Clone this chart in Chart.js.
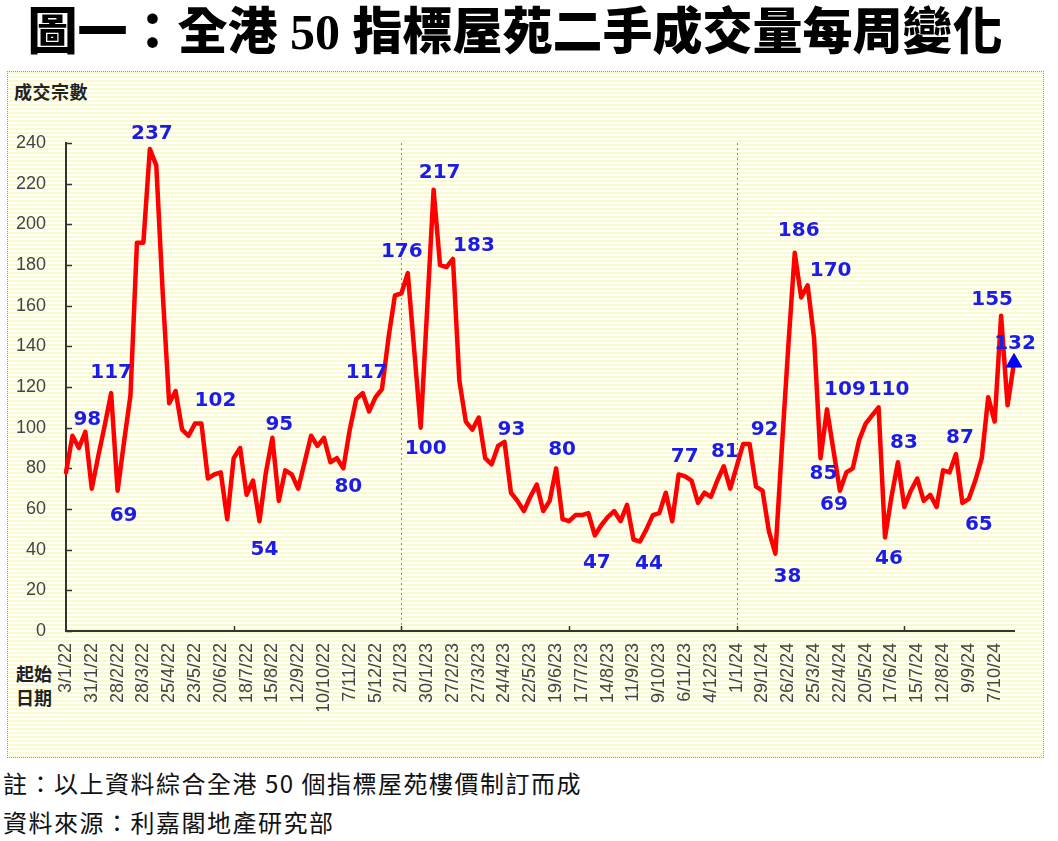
<!DOCTYPE html>
<html>
<head>
<meta charset="utf-8">
<script src="https://cdn.jsdelivr.net/npm/chart.js@4.4.1/dist/chart.umd.min.js"></script>
<style>
html,body{margin:0;padding:0;background:#fff;}
body{width:1058px;height:841px;position:relative;overflow:hidden;font-family:"Noto Sans CJK TC",sans-serif;}
#title{position:absolute;left:0;top:0;width:1030px;text-align:center;font-family:"Liberation Serif","Noto Sans CJK TC",serif;font-weight:900;font-size:50px;line-height:64px;color:#000;white-space:nowrap;}
#box{position:absolute;left:7px;top:71px;width:1035px;height:685px;border:1px dotted #9a9a9a;
 background:repeating-linear-gradient(to bottom,#fafacb 0px,#fafacb 2px,#ffffff 2px,#ffffff 4px);}
#ytitle{position:absolute;left:14px;top:82px;font-size:18px;line-height:18px;font-weight:700;color:#222;letter-spacing:0.5px;}
#xtitle{position:absolute;left:16px;top:661px;font-size:18px;line-height:24px;font-weight:700;color:#222;}
#foot{position:absolute;left:3px;top:763px;font-size:24px;line-height:39px;letter-spacing:1.5px;color:#111;white-space:nowrap;}
#wrap{position:absolute;left:0;top:0;width:1058px;height:841px;}
</style>
</head>
<body>
<div id="title">圖一：全港 50 指標屋苑二手成交量每周變化</div>
<div id="box"></div>
<div id="ytitle">成交宗數</div>
<div id="xtitle">起始<br>日期</div>
<div id="foot">註：以上資料綜合全港 50 個指標屋苑樓價制訂而成<br>資料來源：利嘉閣地產研究部</div>
<div id="wrap"><canvas id="c"></canvas></div>
<script>
// Tick labels: start date of every 4th week
const dateLabels = ['3/1/22','31/1/22','28/2/22','28/3/22','25/4/22','23/5/22','20/6/22','18/7/22','15/8/22','12/9/22','10/10/22','7/11/22','5/12/22',
  '2/1/23','30/1/23','27/2/23','27/3/23','24/4/23','22/5/23','19/6/23','17/7/23','14/8/23','11/9/23','9/10/23','6/11/23','4/12/23',
  '1/1/24','29/1/24','26/2/24','25/3/24','22/4/24','20/5/24','17/6/24','15/7/24','12/8/24','9/9/24','7/10/24'];

// Weekly second-hand transactions, 50 major estates (weeks from 3/1/22)
const deals2022 = [78,96,90,98,70,86,101,117,69,93,116,191,191,237,229,166,112,118,99,96,102,102,75,77,78,55,
  85,90,67,74,54,78,95,64,79,77,70,83,96,91,95,83,85,80,99,114,117,108,115,119,144,165];
const deals2023 = [166,176,138,100,158,217,180,179,183,123,103,99,105,85,82,91,93,68,64,59,66,72,59,64,80,55,
  54,57,57,58,47,52,56,59,54,62,45,44,50,57,58,68,54,77,76,74,63,68,66,74,81,70];
const deals2024 = [81,92,92,71,69,49,38,90,140,186,164,170,144,85,109,89,69,78,80,94,102,106,110,46,66,83,
  61,69,75,64,67,61,79,78,87,63,65,74,85,115,103,155,111,132];
const weeklyDeals = deals2022.concat(deals2023, deals2024);

// Week indices that carry a value label, year dividers, half-year ticks
const labelIndex = [3,7,8,13,21,30,32,43,46,53,55,57,60,68,76,82,89,95,102,106,110,113,115,117,118,120,126,127,129,138,140,145,147];
const yearBreaks = [52,104];
const halfYearTicks = [26,52,78,104,130];

// label offsets (styling only)
const labelOffset = [[2,-12],[0,-20],[6,25],[2,-15],[14,-23],[5,29],[7,-13],[5,18],[4,-20],[-6,-21],[5,21],[6,-17],[21,-13],[7,-12],[6,-19],
  [2,27],[9,22],[6,-18],[1,-15],[15,-14],[12,23],[4,-22],[23,-15],[3,16],[18,-20],[-6,14],[10,-18],[4,21],[6,-19],[4,-16],[10,26],[-9,-16],[1,-19]];

const categories = weeklyDeals.map((v, i) => (i % 4 === 0 && dateLabels[i / 4]) ? dateLabels[i / 4] : '');
const lastIdx = weeklyDeals.length - 1;

const decorPlugin = {
  id: 'decor',
  beforeDatasetsDraw(chart) {
    const {ctx, chartArea, scales: {x, y}} = chart;
    ctx.save();
    ctx.strokeStyle = '#8a8a8a';
    ctx.lineWidth = 1;
    ctx.setLineDash([2, 3]);
    yearBreaks.forEach(i => {
      const px = Math.round(x.getPixelForValue(i)) + 0.5;
      ctx.beginPath(); ctx.moveTo(px, chartArea.top); ctx.lineTo(px, chartArea.bottom); ctx.stroke();
    });
    ctx.setLineDash([]);
    ctx.strokeStyle = '#333';
    ctx.lineWidth = 1.5;
    y.ticks.forEach(t => {
      const py = Math.round(y.getPixelForValue(t.value)) + 0.5;
      ctx.beginPath(); ctx.moveTo(chartArea.left, py); ctx.lineTo(chartArea.left + 6, py); ctx.stroke();
    });
    halfYearTicks.forEach(i => {
      const px = Math.round(x.getPixelForValue(i)) + 0.5;
      ctx.beginPath(); ctx.moveTo(px, chartArea.bottom); ctx.lineTo(px, chartArea.bottom - 5); ctx.stroke();
    });
    ctx.restore();
  },
  afterDatasetsDraw(chart) {
    const {ctx} = chart;
    const meta = chart.getDatasetMeta(0);
    ctx.save();
    ctx.font = 'bold 20px "DejaVu Sans", Verdana, sans-serif';
    ctx.fillStyle = '#1c1ce8';
    ctx.textAlign = 'center';
    ctx.textBaseline = 'middle';
    labelIndex.forEach((idx, k) => {
      const el = meta.data[idx];
      const off = labelOffset[k];
      ctx.fillText(String(weeklyDeals[idx]), el.x + off[0], el.y + off[1]);
    });
    ctx.restore();
  }
};

new Chart(document.getElementById('c'), {
  type: 'line',
  data: {
    labels: categories,
    datasets: [{
      data: weeklyDeals,
      borderColor: '#ff0000',
      borderWidth: 4.5,
      tension: 0,
      borderJoinStyle: 'round',
      borderCapStyle: 'round',
      pointStyle: 'triangle',
      pointRadius: c => c.dataIndex === lastIdx ? 9 : 0,
      pointHoverRadius: 0,
      pointBackgroundColor: '#0000ff',
      pointBorderColor: '#0000ff',
      pointBorderWidth: 1
    }]
  },
  options: {
    responsive: true,
    maintainAspectRatio: false,
    animation: false,
    events: [],
    layout: {padding: {left: 0, right: 44, top: 143, bottom: 130}},
    plugins: {legend: {display: false}, tooltip: {enabled: false}},
    scales: {
      x: {
        type: 'category',
        offset: false,
        grid: {display: false, drawTicks: false},
        border: {display: true, color: '#333', width: 2},
        ticks: {autoSkip: false, maxRotation: 90, minRotation: 90, padding: 12, color: '#444',
          font: {family: '"Liberation Sans", Arial, sans-serif', size: 18}},
        afterFit(s) { s.height = 80; }
      },
      y: {
        min: 0, max: 240,
        grid: {display: false, drawTicks: false},
        border: {display: true, color: '#333', width: 2},
        ticks: {stepSize: 20, padding: 20, color: '#444',
          font: {family: '"Liberation Sans", Arial, sans-serif', size: 18}},
        afterFit(s) { s.width = 66; }
      }
    }
  },
  plugins: [decorPlugin]
});
</script>
</body>
</html>
